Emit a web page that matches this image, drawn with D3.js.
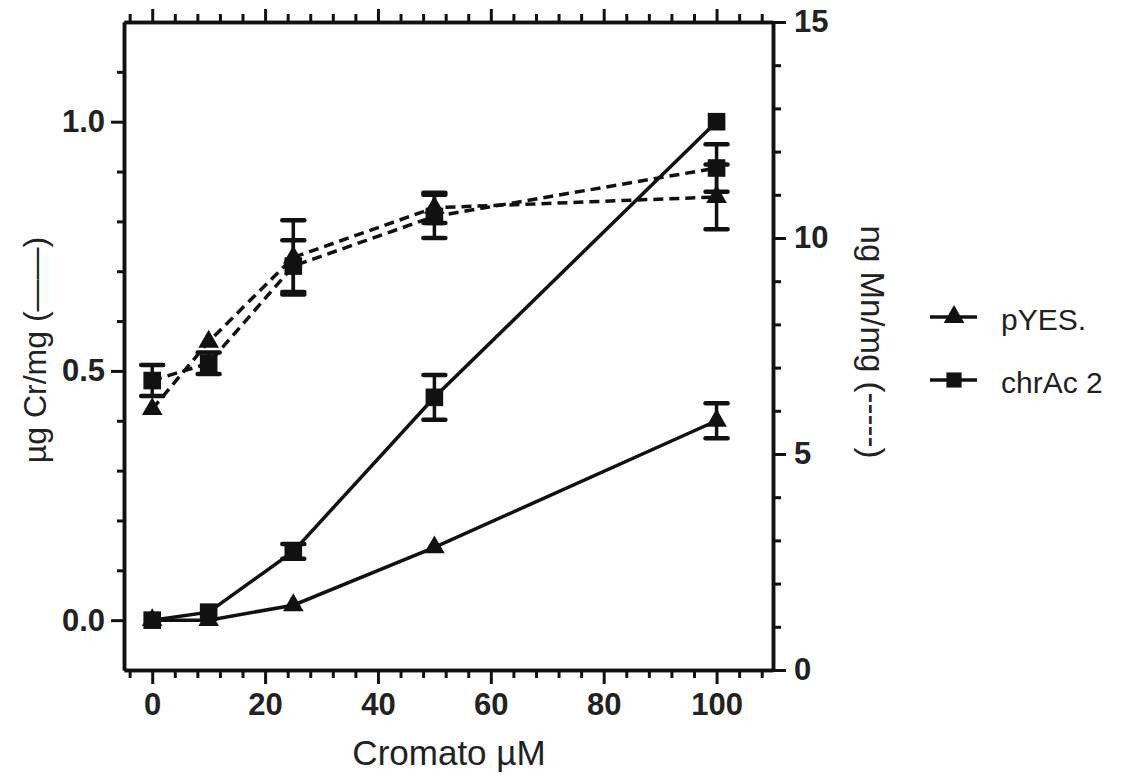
<!DOCTYPE html>
<html>
<head>
<meta charset="utf-8">
<script src="https://cdn.jsdelivr.net/npm/d3@7"></script>
<style>
  body { margin: 0; background: #fff; }
  text { font-family: "Liberation Sans", Arial, sans-serif; fill: #222; }
</style>
</head>
<body>
<div id="chart"></div>
<script>
// chromate concentration (µM)
const conc = [0, 10, 25, 50, 100];

// µg Cr/mg  (solid lines, left axis)
const crPYES    = [0.0, 0.0, 0.03, 0.146, 0.40];
const crPYESErr = [0, 0, 0, 0, 0.035];
const crChr     = [0.0, 0.016, 0.138, 0.447, 1.0];
const crChrErr  = [0, 0, 0.015, 0.045, 0];

// ng Mn/mg  (dashed lines, right axis)
const mnPYES    = [6.04, 7.6, 9.55, 10.7, 10.95];
const mnPYESErr = [0, 0, 0.86, 0.35, 0.75];
const mnChr     = [6.7, 7.1, 9.35, 10.5, 11.62];
const mnChrErr  = [0.36, 0.25, 0.6, 0.5, 0.55];

const xMajor  = [0, 20, 40, 60, 80, 100];
const crMajor = [0.0, 0.5, 1.0];
const mnMajor = [0, 5, 10, 15];
const seriesNames = ["pYES.", "chrAc 2"];

const W = 1147, H = 776;
const mLeft = 124, mRight = 773, mTop = 22, mBottom = 670;

const svg = d3.select('#chart').append('svg')
    .attr('width', W).attr('height', H);
svg.append('rect').attr('width', W).attr('height', H).attr('fill', '#fff');

const x = d3.scaleLinear().domain([-5, 110]).range([mLeft, mRight]);
const yCr = d3.scaleLinear().domain([-0.1, 1.2]).range([mBottom, mTop]);
const yMn = d3.scaleLinear().domain([0, 15]).range([mBottom, mTop]);

// axis helper: minor ticks without labels, then majors with labels
function drawAxis(axisFn, scale, minors, majors, minorLen, majorLen, pos, fmt, pad) {
    const g = svg.append('g').attr('transform', pos);
    g.append('g').call(axisFn(scale).tickValues(minors).tickSize(minorLen).tickSizeOuter(0).tickFormat(''));
    const m = g.append('g').call(axisFn(scale).tickValues(majors).tickSize(majorLen).tickSizeOuter(0)
        .tickFormat(fmt || '').tickPadding(pad || 6));
    g.selectAll('.domain').attr('stroke', '#111').attr('stroke-width', 3.5);
    g.selectAll('.tick line').attr('stroke', '#111').attr('stroke-width', 3);
    m.selectAll('text').attr('font-size', 31).attr('font-weight', 'bold').attr('fill', '#222');
    return g;
}

const xMinor = d3.range(-4, 110, 4).filter(v => v % 20 !== 0);
drawAxis(d3.axisBottom, x, xMinor, xMajor, 8, 14, `translate(0,${mBottom})`, d3.format('d'), 9);
drawAxis(d3.axisTop, x, xMinor, xMajor, 8, 13, `translate(0,${mTop})`, null);
const crMinor = d3.range(0.1, 1.15, 0.1).filter(v => Math.abs(v * 2 - Math.round(v * 2)) > 0.01);
drawAxis(d3.axisLeft, yCr, crMinor, crMajor, 7, 13, `translate(${mLeft},0)`, d3.format('.1f'), 6);
const mnMinor = d3.range(1, 15, 1).filter(v => v % 5 !== 0);
drawAxis(d3.axisRight, yMn, mnMinor, mnMajor, 8, 13, `translate(${mRight},0)`, d3.format('d'), 8);

// axis titles
svg.append('text')
    .attr('x', 449).attr('y', 765)
    .attr('text-anchor', 'middle').attr('font-size', 35)
    .text('Cromato µM');
svg.append('text')
    .attr('transform', 'translate(46,350) rotate(-90)')
    .attr('text-anchor', 'middle').attr('font-size', 32)
    .text('µg Cr/mg (——)');
svg.append('text')
    .attr('transform', 'translate(861,342) rotate(90)')
    .attr('text-anchor', 'middle').attr('font-size', 33)
    .text('ng Mn/mg (-----)');

const tri = d3.symbol().type(d3.symbolTriangle).size(185);
const sq = d3.symbol().type(d3.symbolSquare).size(310);

function drawSeries(vals, errs, yScale, dashed, marker) {
    const pts = conc.map((c, i) => ({ c: c, v: vals[i], e: errs[i] }));
    const line = d3.line().x(d => x(d.c)).y(d => yScale(d.v));
    svg.append('path').datum(pts)
        .attr('d', line).attr('fill', 'none')
        .attr('stroke', '#111').attr('stroke-width', 3.5)
        .attr('stroke-dasharray', dashed ? '10,6' : null);

    const eb = svg.append('g').selectAll('g').data(pts.filter(d => d.e > 0)).enter().append('g');
    eb.append('line')
        .attr('x1', d => x(d.c)).attr('x2', d => x(d.c))
        .attr('y1', d => yScale(d.v - d.e)).attr('y2', d => yScale(d.v + d.e))
        .attr('stroke', '#111').attr('stroke-width', 3.5);
    [-1, 1].forEach(s => {
        eb.append('line')
            .attr('x1', d => x(d.c) - 11).attr('x2', d => x(d.c) + 11)
            .attr('y1', d => yScale(d.v + s * d.e)).attr('y2', d => yScale(d.v + s * d.e))
            .attr('stroke', '#111').attr('stroke-width', 4.5).attr('stroke-linecap', 'round');
    });

    svg.append('g').selectAll('path').data(pts).enter().append('path')
        .attr('d', marker)
        .attr('transform', d => `translate(${x(d.c)},${yScale(d.v)})`)
        .attr('fill', '#111');
}

drawSeries(mnPYES, mnPYESErr, yMn, true, tri);
drawSeries(mnChr, mnChrErr, yMn, true, sq);
drawSeries(crPYES, crPYESErr, yCr, false, tri);
drawSeries(crChr, crChrErr, yCr, false, sq);

// legend
const legend = svg.append('g').selectAll('g').data(seriesNames).enter().append('g')
    .attr('transform', (d, i) => `translate(930,${317 + i * 63})`);
legend.append('line').attr('x1', 0).attr('x2', 47).attr('y1', 0).attr('y2', 0)
    .attr('stroke', '#111').attr('stroke-width', 3.5);
legend.append('path')
    .attr('d', (d, i) => i === 0 ? tri() : d3.symbol().type(d3.symbolSquare).size(230)())
    .attr('transform', 'translate(24,0)').attr('fill', '#111');
legend.append('text')
    .attr('x', 71).attr('y', 13)
    .attr('font-size', 30)
    .text(d => d);
</script>
</body>
</html>
